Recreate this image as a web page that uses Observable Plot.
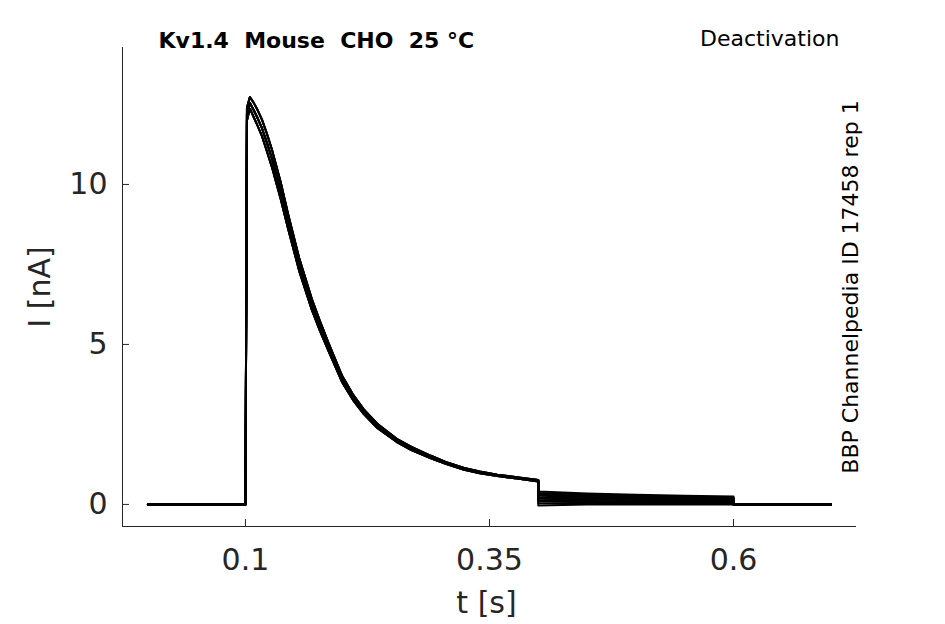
<!DOCTYPE html>
<html>
<head>
<meta charset="utf-8">
<script src="https://cdn.jsdelivr.net/npm/d3@7"></script>
<script src="https://cdn.jsdelivr.net/npm/@observablehq/plot@0.6"></script>
<style>
  html, body { margin: 0; padding: 0; background: #fff; }
  #chart { width: 945px; height: 624px; }
  #chart svg text { white-space: pre; }
</style>
</head>
<body>
<div id="chart"></div>
<script>
// ---- data ----
const title = "Kv1.4  Mouse  CHO  25 °C";
const protocol = "Deactivation";
const sourceNote = "BBP Channelpedia ID 17458 rep 1";
const xLabel = "t [s]";
const yLabel = "I [nA]";
const xTicks = [0.1, 0.35, 0.6];
const yTicks = [0, 5, 10];
const xDomain = [-0.026, 0.726];
const yDomain = [-0.69, 14.28];

// activation / inactivation phase (s, nA)
const pulseTimes = [0, 0.1, 0.1015, 0.1045, 0.1085, 0.112, 0.117, 0.122, 0.127, 0.136, 0.144, 0.155, 0.168, 0.176, 0.185, 0.199, 0.21, 0.221, 0.235, 0.255, 0.27, 0.29, 0.305, 0.324, 0.34, 0.358, 0.38, 0.4];
const pulseHigh  = [0, 0, 12.4, 12.73, 12.55, 12.35, 12.02, 11.58, 11.1, 10.08, 9.03, 7.7, 6.42, 5.75, 5.05, 4.02, 3.44, 2.98, 2.52, 2.05, 1.8, 1.52, 1.33, 1.14, 1.03, 0.93, 0.84, 0.76];
const pulseMid   = [0, 0, 12.2, 12.55, 12.32, 12.1, 11.75, 11.3, 10.82, 9.8, 8.8, 7.5, 6.25, 5.6, 4.92, 3.92, 3.35, 2.9, 2.45, 2.0, 1.75, 1.48, 1.3, 1.11, 1.0, 0.91, 0.82, 0.74];
const pulseLow   = [0, 0, 12.0, 12.37, 12.1, 11.86, 11.5, 11.03, 10.55, 9.55, 8.58, 7.3, 6.08, 5.45, 4.8, 3.82, 3.27, 2.83, 2.39, 1.95, 1.7, 1.44, 1.27, 1.08, 0.97, 0.89, 0.8, 0.72];
const pulseOfTrace = ["high", "mid", "low", "high", "mid", "low", "mid", "high", "low", "mid"];

// tail currents (deactivation step)
const tailTimes = [0.4, 0.45, 0.5, 0.55, 0.6];
const tailValues = [
  [0.40, 0.34, 0.30, 0.27, 0.25],
  [0.36, 0.31, 0.27, 0.24, 0.22],
  [0.31, 0.27, 0.24, 0.21, 0.19],
  [0.27, 0.23, 0.20, 0.18, 0.17],
  [0.22, 0.19, 0.17, 0.15, 0.14],
  [0.18, 0.15, 0.13, 0.12, 0.11],
  [0.13, 0.11, 0.10, 0.09, 0.08],
  [0.09, 0.07, 0.06, 0.06, 0.05],
  [0.04, 0.03, 0.03, 0.02, 0.02],
  [-0.03, 0.00, 0.00, 0.00, 0.00]
];
// return to holding
const endTimes = [0.6, 0.7];
const endValues = [0, 0];

// ---- build long table ----
const pulses = {high: pulseHigh, mid: pulseMid, low: pulseLow};
const rows = [];
tailValues.forEach((tail, i) => {
  const p = pulses[pulseOfTrace[i]];
  pulseTimes.forEach((t, j) => rows.push({trace: i, t, I: p[j]}));
  tailTimes.forEach((t, j) => rows.push({trace: i, t, I: tail[j]}));
  endTimes.forEach((t, j) => rows.push({trace: i, t, I: endValues[j]}));
});

const axisColor = "#262626";
const font = "DejaVu Sans";

const chart = Plot.plot({
  width: 945,
  height: 624,
  marginLeft: 122,
  marginRight: 89,
  marginTop: 47,
  marginBottom: 98,
  style: {fontFamily: font, color: axisColor, background: "#fff"},
  x: {domain: xDomain, label: null},
  y: {domain: yDomain, label: null},
  marks: [
    Plot.ruleX([xDomain[0]], {stroke: axisColor, strokeWidth: 1}),
    Plot.ruleY([yDomain[0]], {stroke: axisColor, strokeWidth: 1}),
    Plot.axisY(yTicks, {anchor: "left", tickSize: -7, tickPadding: 22, fontSize: 30, stroke: axisColor, fill: axisColor, label: null, tickFormat: d => String(d)}),
    Plot.axisX(xTicks, {anchor: "bottom", tickSize: -7, tickPadding: 29, fontSize: 30, stroke: axisColor, fill: axisColor, label: null, tickFormat: d => String(d)}),
    Plot.line(rows, {x: "t", y: "I", z: "trace", stroke: "#000", strokeWidth: 2, curve: "linear"}),
    Plot.text([yLabel], {text: d => d, frameAnchor: "left", dx: -82, rotate: -90, fontSize: 30, fill: axisColor, textAnchor: "middle", lineAnchor: "middle"}),
    Plot.text([xLabel], {text: d => d, frameAnchor: "bottom", dy: 77, dx: -3, fontSize: 30, fill: axisColor, textAnchor: "middle", lineAnchor: "middle"}),
    Plot.text([title], {text: d => d, frameAnchor: "top-left", dx: 36, dy: -7, fontSize: 22, fontWeight: "bold", fill: "#000", textAnchor: "start", lineAnchor: "middle"}),
    Plot.text([protocol], {text: d => d, frameAnchor: "top-right", dx: -17, dy: -9, fontSize: 22, fill: "#000", textAnchor: "end", lineAnchor: "middle"}),
    Plot.text([sourceNote], {text: d => d, frameAnchor: "right", dx: -6, rotate: -90, fontSize: 22, fill: "#000", textAnchor: "middle", lineAnchor: "middle"})
  ]
});
document.getElementById("chart").appendChild(chart);
</script>
</body>
</html>
